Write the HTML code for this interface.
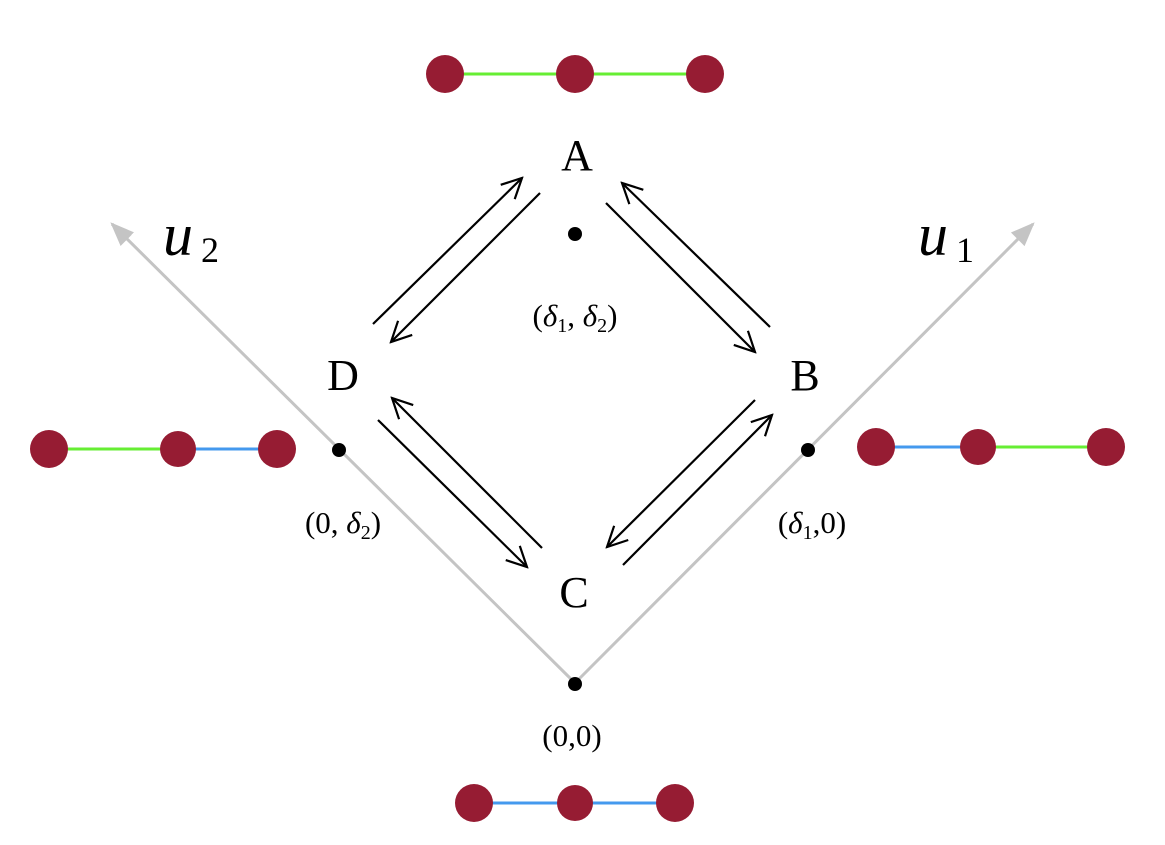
<!DOCTYPE html>
<html><head><meta charset="utf-8"><style>html,body{margin:0;padding:0;background:#fff}svg{display:block}</style></head><body>
<svg width="1165" height="845" viewBox="0 0 1165 845" xmlns="http://www.w3.org/2000/svg">
<defs>
<marker id="a" viewBox="0 0 24 24" refX="22" refY="12" markerWidth="24" markerHeight="24" markerUnits="userSpaceOnUse" orient="auto">
<polyline points="2,2 22,12 2,22" fill="none" stroke="#000" stroke-width="2.2"/></marker>
<marker id="g" viewBox="0 0 20 20" refX="18" refY="10" markerWidth="24" markerHeight="24" markerUnits="userSpaceOnUse" orient="auto">
<polygon points="0,2 20,10 0,18" fill="#c4c4c4"/></marker>
</defs>
<g stroke="#c4c4c4" stroke-width="3" fill="none">
<line x1="575" y1="683" x2="112" y2="224" marker-end="url(#g)"/>
<line x1="575" y1="683" x2="1033" y2="224" marker-end="url(#g)"/>
</g>
<g stroke="#000" stroke-width="2.2" fill="none">
<line x1="373" y1="324" x2="522" y2="178" marker-end="url(#a)"/>
<line x1="540" y1="193" x2="391" y2="342" marker-end="url(#a)"/>
<line x1="770" y1="327" x2="622" y2="183" marker-end="url(#a)"/>
<line x1="606" y1="203" x2="755" y2="352" marker-end="url(#a)"/>
<line x1="542" y1="548" x2="392" y2="398" marker-end="url(#a)"/>
<line x1="378" y1="420" x2="527" y2="567" marker-end="url(#a)"/>
<line x1="755" y1="400" x2="607" y2="547" marker-end="url(#a)"/>
<line x1="623" y1="565" x2="772" y2="415" marker-end="url(#a)"/>
</g>
<g fill="#000"><circle cx="575" cy="684" r="7"/><circle cx="339" cy="450" r="7"/><circle cx="808" cy="450" r="7"/><circle cx="575" cy="234" r="7"/></g>
<g stroke-width="3">
<line x1="445" y1="74" x2="705" y2="74" stroke="#66ee33"/>
<line x1="49" y1="449" x2="178" y2="449" stroke="#66ee33"/>
<line x1="178" y1="449" x2="277" y2="449" stroke="#4499ee"/>
<line x1="876" y1="447" x2="978" y2="447" stroke="#4499ee"/>
<line x1="978" y1="447" x2="1106" y2="447" stroke="#66ee33"/>
<line x1="474" y1="803" x2="675" y2="803" stroke="#4499ee"/>
</g>
<g fill="#961c33">
<circle cx="445" cy="74" r="19"/><circle cx="575" cy="74" r="19"/><circle cx="705" cy="74" r="19"/>
<circle cx="49" cy="449" r="19"/><circle cx="178" cy="449" r="18"/><circle cx="277" cy="449" r="19"/>
<circle cx="876" cy="447" r="19"/><circle cx="978" cy="447" r="18"/><circle cx="1106" cy="447" r="19"/>
<circle cx="474" cy="803" r="19"/><circle cx="575" cy="803" r="18"/><circle cx="675" cy="803" r="19"/>
</g>
<g font-family="Liberation Serif, serif" fill="#000">
<text x="577" y="170" font-size="44" text-anchor="middle">A</text>
<text x="343" y="390" font-size="44" text-anchor="middle">D</text>
<text x="805" y="390" font-size="44" text-anchor="middle">B</text>
<text x="574" y="607" font-size="44" text-anchor="middle">C</text>
<text x="163" y="255" font-size="60" font-style="italic">u</text><text x="201" y="262" font-size="36">2</text>
<text x="918" y="255" font-size="60" font-style="italic">u</text><text x="956" y="262" font-size="36">1</text>
<text x="575" y="326" font-size="31" text-anchor="middle">(<tspan font-style="italic">δ</tspan><tspan font-size="20" dy="6">1</tspan><tspan dy="-6">, </tspan><tspan font-style="italic">δ</tspan><tspan font-size="20" dy="6">2</tspan><tspan dy="-6">)</tspan></text>
<text x="343" y="533" font-size="31" text-anchor="middle">(0, <tspan font-style="italic">δ</tspan><tspan font-size="20" dy="6">2</tspan><tspan dy="-6">)</tspan></text>
<text x="812" y="533" font-size="31" text-anchor="middle">(<tspan font-style="italic">δ</tspan><tspan font-size="20" dy="6">1</tspan><tspan dy="-6">,0)</tspan></text>
<text x="572" y="746" font-size="31" text-anchor="middle">(0,0)</text>
</g>
</svg>
</body></html>
